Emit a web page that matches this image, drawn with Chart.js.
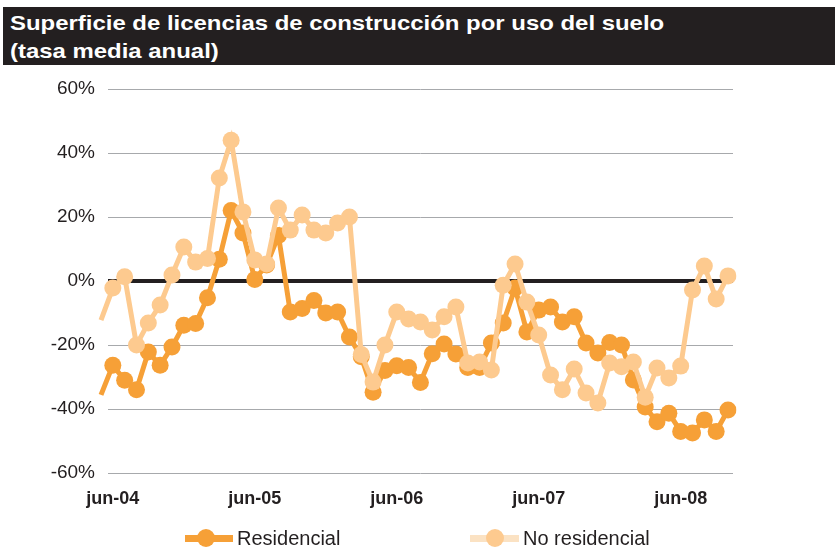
<!DOCTYPE html>
<html>
<head>
<meta charset="utf-8">
<script src="https://cdn.jsdelivr.net/npm/chart.js@4.4.0/dist/chart.umd.min.js"></script>
<style>
  body { margin:0; background:#fff; font-family:'Liberation Sans', Arial, sans-serif; }
  #wrap { position:relative; width:835px; height:548px; overflow:hidden; }
  #title { position:absolute; left:3px; top:7px; width:832px; height:58px; background:#231F20; color:#fff;
           font-weight:bold; font-size:21px; line-height:28px; box-sizing:border-box; padding:2px 0 0 7px; white-space:nowrap; }
  #title div { transform-origin:0 0; display:inline-block; }
  canvas { position:absolute; left:0; top:0; }
  .leg { position:absolute; top:527px; height:22px; font-size:20px; line-height:22px; color:#231F20; white-space:nowrap; }
  .leg .ln { position:absolute; top:8px; height:7px; }
  .leg .dot { position:absolute; top:2px; width:18px; height:18px; border-radius:50%; }
  .leg .tx { position:absolute; top:0; }
</style>
</head>
<body>
<div id="wrap">
  <canvas id="chart" width="835" height="548"></canvas>
  <div id="title"><div id="t1">Superficie de licencias de construcción por uso del suelo</div><br><div id="t2">(tasa media anual)</div></div>
  <div class="leg" style="left:185px">
    <div class="ln" style="left:0;width:48px;background:#F6A037"></div>
    <div class="dot" style="left:12px;background:#F6A037"></div>
    <div class="tx" style="left:52px">Residencial</div>
  </div>
  <div class="leg" style="left:470px">
    <div class="ln" style="left:0;width:49px;background:#FBE2C3"></div>
    <div class="dot" style="left:16px;background:#FDCA8F"></div>
    <div class="tx" style="left:53px">No residencial</div>
  </div>
</div>
<script>
/* ── Data ── */
const MONTHS = [
  'may-04','jun-04','jul-04','ago-04','sep-04','oct-04','nov-04','dic-04',
  'ene-05','feb-05','mar-05','abr-05','may-05','jun-05','jul-05','ago-05','sep-05','oct-05','nov-05','dic-05',
  'ene-06','feb-06','mar-06','abr-06','may-06','jun-06','jul-06','ago-06','sep-06','oct-06','nov-06','dic-06',
  'ene-07','feb-07','mar-07','abr-07','may-07','jun-07','jul-07','ago-07','sep-07','oct-07','nov-07','dic-07',
  'ene-08','feb-08','mar-08','abr-08','may-08','jun-08','jul-08','ago-08','sep-08','oct-08'
];
const RESIDENCIAL = [
  -35.6, -26.3, -31, -34, -22.2, -26.3, -20.6, -13.8,
  -13.3, -5.2, 6.8, 22, 15, 0.5, 5, 14.2, -9.7, -8.6, -6.1, -10,
  -9.7, -17.5, -23.7, -34.8, -28, -26.5, -27, -31.7, -22.7, -19.7, -22.8, -27,
  -27, -19.4, -13.1, -2.2, -15.9, -9.1, -8.1, -12.8, -11.2, -19.4, -22.5, -19.2,
  -20, -30.9, -39.4, -44, -41.3, -47, -47.5, -43.4, -47, -40.3
];
const NO_RESIDENCIAL = [
  -12.2, -2.2, 1.3, -20, -13.1, -7.5, 1.9, 10.6,
  5.9, 7, 32.2, 44, 21.6, 6.6, 5.3, 22.8, 15.9, 20.6, 15.9, 15,
  18.1, 20, -23, -31.6, -20, -9.7, -11.9, -12.8, -15.3, -11.2, -8.1, -25.6,
  -25.3, -27.8, -1.3, 5.3, -6.6, -16.9, -29.4, -34, -27.5, -35, -38.1, -25.6,
  -26.8, -25.3, -36.3, -27.2, -30.3, -26.6, -2.8, 4.7, -5.6, 1.6
];
const Y_MIN = -60, Y_MAX = 60, Y_STEP = 20;

const C_RES = '#F6A037';
const C_NORES = '#FDCA8F';
const INK = '#231F20';

/* ── title fit (condensed look of the original) ── */
(function fitTitle(){
  const t1 = document.getElementById('t1'), t2 = document.getElementById('t2');
  const s = 654 / t1.offsetWidth;
  t1.style.transform = t2.style.transform = `scaleX(${s})`;
})();

/* ── grid lines + zero line, drawn under the series ── */
const gridPlugin = {
  id:'gridPlugin',
  beforeDatasetsDraw(chart) {
    const { ctx, chartArea, scales:{ y } } = chart;
    ctx.save();
    y.ticks.forEach(t => {
      const zero = t.value === 0;
      const py = Math.round(y.getPixelForValue(t.value)) + (zero ? 0 : 0.5);
      ctx.beginPath();
      ctx.lineWidth = zero ? 4 : 1;
      ctx.strokeStyle = zero ? INK : '#A7A9AC';
      ctx.moveTo(chartArea.left + 7, py);
      ctx.lineTo(chartArea.right + 5, py);
      ctx.stroke();
    });
    ctx.restore();
  }
};

const radius = c => c.dataIndex === 0 ? 0 : 8.5;

new Chart(document.getElementById('chart'), {
  type:'line',
  data:{
    labels:MONTHS,
    datasets:[
      { label:'No residencial', data:NO_RESIDENCIAL, borderColor:C_NORES, backgroundColor:C_NORES,
        borderWidth:5, pointRadius:radius, pointBorderWidth:0, pointBackgroundColor:C_NORES, tension:0, order:1 },
      { label:'Residencial', data:RESIDENCIAL, borderColor:C_RES, backgroundColor:C_RES,
        borderWidth:5, pointRadius:radius, pointBorderWidth:0, pointBackgroundColor:C_RES, tension:0, order:2 },
    ]
  },
  options:{
    responsive:false, animation:false,
    layout:{ padding:{ left:0, right:107, top:89, bottom:35 } },
    plugins:{ legend:{ display:false }, tooltip:{ enabled:false } },
    scales:{
      x:{
        offset:false,
        grid:{ display:false, drawTicks:false }, border:{ display:false },
        afterFit: s => { s.height = 40; },
        ticks:{ autoSkip:false, maxRotation:0, padding:15, color:INK,
                font:{ family:'Liberation Sans', size:18, weight:'bold' },
                callback:(v, i) => MONTHS[i].startsWith('jun') ? MONTHS[i] : '' }
      },
      y:{
        min:Y_MIN, max:Y_MAX,
        grid:{ display:false, drawTicks:false }, border:{ display:false },
        afterFit: s => { s.width = 101; },
        ticks:{ stepSize:Y_STEP, padding:6, color:INK,
                font:{ family:'Liberation Sans', size:19 },
                callback: v => v + '%' }
      }
    }
  },
  plugins:[gridPlugin]
});
</script>
</body>
</html>
